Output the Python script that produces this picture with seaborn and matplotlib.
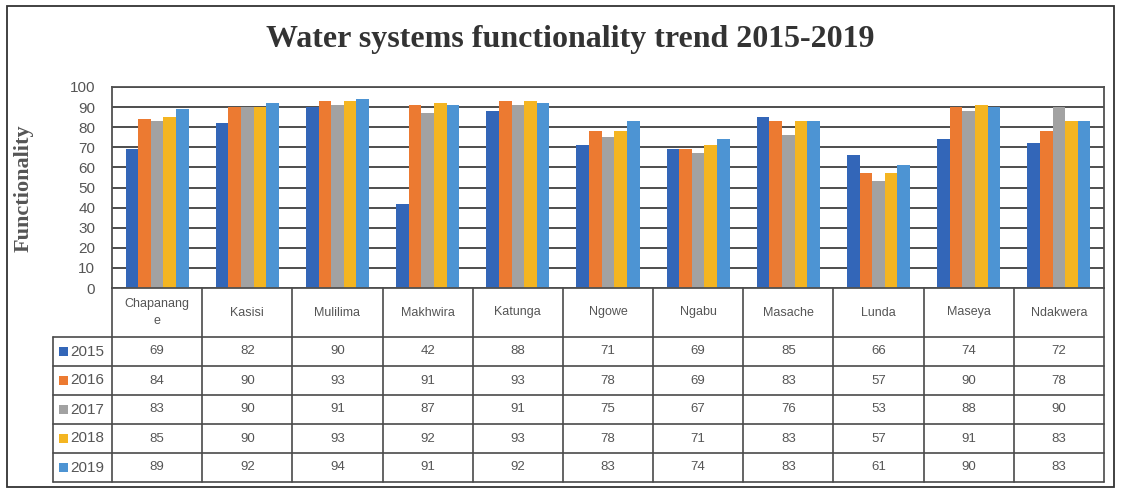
import matplotlib
matplotlib.use("Agg")
import matplotlib.pyplot as plt
import seaborn as sns
import pandas as pd
from matplotlib.patches import Rectangle

# ---- data ----
categories = ["Chapanange", "Kasisi", "Mulilima", "Makhwira", "Katunga", "Ngowe",
              "Ngabu", "Masache", "Lunda", "Maseya", "Ndakwera"]
cat_labels = ["Chapanang\ne", "Kasisi", "Mulilima", "Makhwira", "Katunga", "Ngowe",
              "Ngabu", "Masache", "Lunda", "Maseya", "Ndakwera"]
years = ["2015", "2016", "2017", "2018", "2019"]
v2015 = [69, 82, 90, 42, 88, 71, 69, 85, 66, 74, 72]
v2016 = [84, 90, 93, 91, 93, 78, 69, 83, 57, 90, 78]
v2017 = [83, 90, 91, 87, 91, 75, 67, 76, 53, 88, 90]
v2018 = [85, 90, 93, 92, 93, 78, 71, 83, 57, 91, 83]
v2019 = [89, 92, 94, 91, 92, 83, 74, 83, 61, 90, 83]
series = [v2015, v2016, v2017, v2018, v2019]
colors = ["#3366B8", "#EC7A31", "#A2A2A2", "#F4B521", "#4D94D3"]

rows = []
for y, vals in zip(years, series):
    for c, v in zip(categories, vals):
        rows.append({"Site": c, "Year": y, "Functionality": v})
df = pd.DataFrame(rows)

W, H = 1121, 492
sns.set_theme(style="white")
plt.rcParams["font.family"] = ["Liberation Sans Narrow", "Liberation Sans", "DejaVu Sans"]

fig = plt.figure(figsize=(W / 100, H / 100), dpi=100)
fig.patch.set_facecolor("white")

# plot area in pixel coordinates
L, R, T, B = 112, 1104, 87, 288
ax = fig.add_axes([L / W, 1 - B / H, (R - L) / W, (B - T) / H])

sns.barplot(data=df, x="Site", y="Functionality", hue="Year", order=categories,
            hue_order=years, palette=colors, width=0.7, gap=0, saturation=1,
            ax=ax, legend=False, edgecolor="none", linewidth=0)

ax.set_xlim(-0.5, len(categories) - 0.5)
ax.set_ylim(0, 100)
ax.set_yticks(range(0, 101, 10))
ax.yaxis.grid(True, color="#3f3f3f", linewidth=1.3)
ax.set_axisbelow(True)
ax.set_xticks([])
ax.set_xlabel("")
ax.set_ylabel("")
ax.tick_params(axis="y", length=0, pad=12, labelsize=11, labelcolor="#555555")
for s in ax.spines.values():
    s.set_color("#505050")
    s.set_linewidth(1.3)

# overlay axes for table, titles, border (pixel coordinates)
ov = fig.add_axes([0, 0, 1, 1], zorder=5)
ov.set_xlim(0, W)
ov.set_ylim(H, 0)
ov.axis("off")
ov.patch.set_alpha(0)

# outer frame
ov.add_patch(Rectangle((7, 6), 1107, 481, fill=False, edgecolor="#333333", linewidth=1.3))

# title and y label
ov.text(570, 40, "Water systems functionality trend 2015-2019",
        ha="center", va="center", fontsize=23, fontweight="bold",
        family=["Liberation Serif", "DejaVu Serif"], color="#333333")
ov.text(24, 188, "Functionality", rotation=90, ha="center", va="center",
        fontsize=16, fontweight="bold", family=["Liberation Serif", "DejaVu Serif"],
        color="#555555")

# table geometry
fig.canvas.draw()
def xpx(v):
    return ax.transData.transform((v, 0))[0]

n = len(categories)
bounds = [xpx(i - 0.5) for i in range(n + 1)]
centers = [xpx(i) for i in range(n)]
head_bottom = 337
row_h = 29
row_edges = [head_bottom + k * row_h for k in range(len(years) + 1)]
leg_left = 53
lc = "#4a4a4a"

for xb in bounds:
    ov.plot([xb, xb], [B, row_edges[-1]], color=lc, lw=1.2)
ov.plot([leg_left, leg_left], [head_bottom, row_edges[-1]], color=lc, lw=1.2)
for yb in row_edges:
    ov.plot([leg_left, bounds[-1]], [yb, yb], color=lc, lw=1.2)

for cx, lab in zip(centers, cat_labels):
    ov.text(cx, (B + head_bottom) / 2, lab, ha="center", va="center",
            fontsize=9, color="#555555", linespacing=1.6)

for r, (yr, vals, col) in enumerate(zip(years, series, colors)):
    yc = (row_edges[r] + row_edges[r + 1]) / 2
    ov.add_patch(Rectangle((leg_left + 6, yc - 4.5), 9, 9, facecolor=col, edgecolor="none"))
    ov.text(leg_left + 17, yc, yr, ha="left", va="center", fontsize=11, color="#555555")
    for cx, v in zip(centers, vals):
        ov.text(cx, yc, str(v), ha="center", va="center", fontsize=9.5, color="#555555")

fig.savefig("out.png", dpi=100)
